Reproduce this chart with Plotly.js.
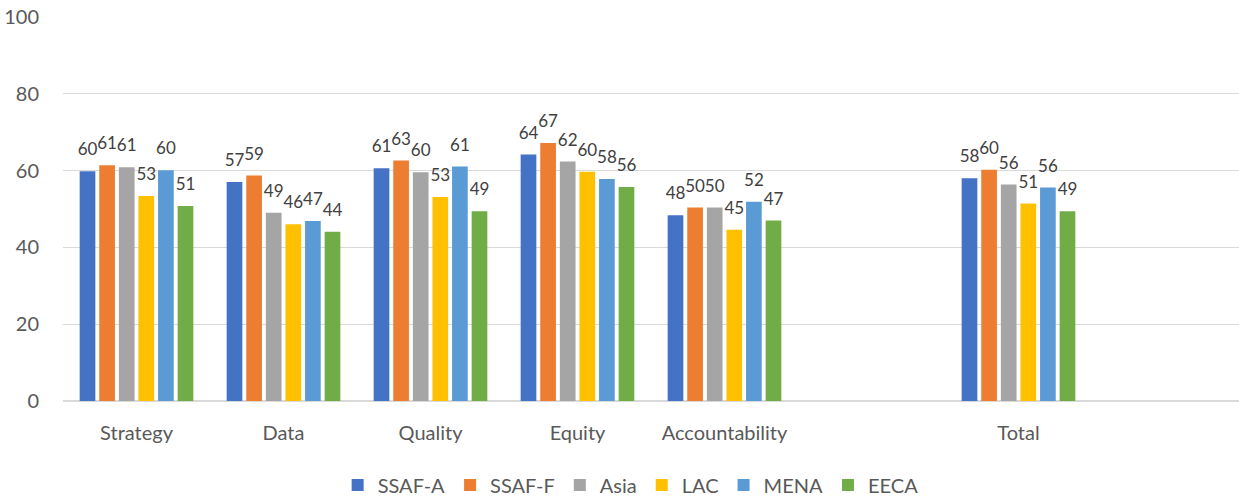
<!DOCTYPE html>
<html>
<head>
<meta charset="utf-8">
<script src="https://cdn.plot.ly/plotly-3.0.1.min.js"></script>
<style>html,body{margin:0;padding:0;background:#fff;}</style>
</head>
<body>
<div id="chart" style="width:1239px;height:497px;"></div>
<script>
// Categories (blank entries are spacer slots on the axis)
var categories = ['Strategy', 'Data', 'Quality', 'Equity', 'Accountability', ' ', 'Total', '  '];

// Series values (null = spacer slot)
var ssafA = [59.8, 57.0, 60.6, 64.2, 48.4, null, 58.0, null];
var ssafF = [61.4, 58.7, 62.6, 67.2, 50.4, null, 60.2, null];
var asia  = [60.9, 49.0, 59.6, 62.4, 50.4, null, 56.4, null];
var lac   = [53.4, 46.0, 53.1, 59.7, 44.6, null, 51.4, null];
var mena  = [60.1, 46.9, 61.1, 57.8, 51.9, null, 55.6, null];
var eeca  = [50.8, 44.1, 49.4, 55.7, 47.0, null, 49.4, null];

var seriesNames = ['SSAF-A', 'SSAF-F', 'Asia', 'LAC', 'MENA', 'EECA'];
var seriesValues = [ssafA, ssafF, asia, lac, mena, eeca];
var seriesColors = ['#4472C4', '#ED7D31', '#A5A5A5', '#FFC000', '#5B9BD5', '#70AD47'];

var yTicks = [0, 20, 40, 60, 80, 100];

var FONT = 'Lato, "Open Sans", sans-serif';
var traces = [];
seriesNames.forEach(function (name, i) {
  traces.push({
    type: 'bar',
    name: name,
    x: categories,
    y: seriesValues[i],
    marker: {color: seriesColors[i]},
    hoverinfo: 'x+y+name'
  });
});
// Data labels, placed at the bar centres via grouped scatter points
seriesNames.forEach(function (name, i) {
  traces.push({
    type: 'scatter',
    mode: 'markers+text',
    name: name + ' labels',
    x: categories,
    y: seriesValues[i],
    texttemplate: '%{y:.0f}',
    textposition: 'top center',
    textfont: {family: FONT, size: 17, color: '#404040'},
    marker: {size: 17, color: 'rgba(0,0,0,0)'},
    showlegend: false,
    hoverinfo: 'skip',
    cliponaxis: false
  });
});

var layout = {
  width: 1239,
  height: 497,
  margin: {l: 63, r: 0, t: 17, b: 96},
  paper_bgcolor: '#ffffff',
  plot_bgcolor: '#ffffff',
  font: {family: FONT, color: '#595959'},
  barmode: 'group',
  bargap: 0.2,
  bargroupgap: 0.2,
  scattermode: 'group',
  scattergap: 0.2,
  showlegend: true,
  legend: {
    orientation: 'h',
    xref: 'container',
    yref: 'container',
    x: 0.509,
    xanchor: 'center',
    y: 0.024,
    yanchor: 'middle',
    font: {family: FONT, size: 20, color: '#595959'},
    traceorder: 'normal'
  },
  xaxis: {
    type: 'category',
    categoryorder: 'array',
    categoryarray: categories,
    range: [-0.5, categories.length - 0.5],
    showgrid: false,
    showline: false,
    zeroline: false,
    ticks: 'outside',
    ticklen: 14,
    tickcolor: 'rgba(0,0,0,0)',
    tickfont: {family: FONT, size: 20, color: '#595959'},
    fixedrange: true
  },
  yaxis: {
    range: [0, 100],
    tickvals: yTicks,
    showgrid: true,
    gridcolor: '#d9d9d9',
    gridwidth: 1.3,
    zeroline: true,
    zerolinecolor: '#d9d9d9',
    zerolinewidth: 1.3,
    showline: false,
    ticks: 'outside',
    ticklen: 19,
    tickcolor: 'rgba(0,0,0,0)',
    tickfont: {family: FONT, size: 20, color: '#595959'},
    fixedrange: true
  }
};

Plotly.newPlot('chart', traces, layout, {displayModeBar: false, staticPlot: true});
</script>
</body>
</html>
